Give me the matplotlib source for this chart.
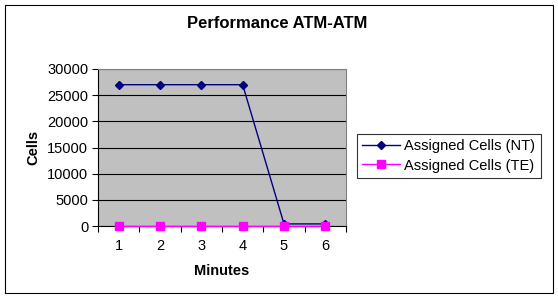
import numpy as np
import matplotlib
matplotlib.use("Agg")
import matplotlib.pyplot as plt
from matplotlib.patches import Rectangle

minutes = [1, 2, 3, 4, 5, 6]
cells_nt = [27000, 27000, 27000, 27000, 400, 400]
cells_te = [0, 0, 0, 0, 0, 0]
yticks = [0, 5000, 10000, 15000, 20000, 25000, 30000]

plt.rcParams['font.family'] = ['Liberation Sans', 'DejaVu Sans']

W, H = 558, 298
fig = plt.figure(figsize=(W / 100, H / 100), dpi=100)

# plot area in pixels
left, right, top, bottom = 98, 346, 69, 226
ax = fig.add_axes([left / W, 1 - bottom / H, (right - left) / W, (bottom - top) / H])
ax.set_facecolor('#C0C0C0')

x = np.arange(len(minutes))
ax.plot(x, cells_nt, color='#000080', lw=1, marker='D', ms=4.5,
        mfc='#000080', mec='#000080', label='Assigned Cells (NT)', zorder=4)
ax.plot(x, cells_te, color='#FF00FF', lw=1, marker='s', ms=6,
        mfc='#FF00FF', mec='#FF00FF', label='Assigned Cells (TE)', zorder=5,
        clip_on=False)

ax.set_xlim(-0.5, len(minutes) - 0.5)
ax.set_ylim(0, 30000)
ax.set_yticks(yticks)
ax.set_yticklabels([str(v) for v in yticks], fontsize=10.5)
ax.yaxis.grid(True, color='black', lw=0.8)
ax.set_axisbelow(True)

# category labels centred, tick marks at category boundaries
ax.set_xticks(x)
ax.set_xticklabels([str(m) for m in minutes], fontsize=10.5)
ax.tick_params(axis='x', length=0, pad=9)
ax.set_xticks(np.arange(-0.5, len(minutes)), minor=True)
ax.tick_params(axis='x', which='minor', length=4, direction='out', width=0.8)
ax.tick_params(axis='y', length=4, direction='out', width=0.8, pad=3)

for side in ['top', 'right']:
    ax.spines[side].set_color('#808080')
    ax.spines[side].set_linewidth(0.8)
ax.spines['left'].set_color('black')
ax.spines['bottom'].set_color('black')

ax.set_xlabel('Minutes', fontsize=10.5, fontweight='bold', labelpad=8)
ax.set_ylabel('Cells', fontsize=10.5, fontweight='bold', labelpad=5)

fig.text(277 / W, 1 - 23 / H, 'Performance ATM-ATM', ha='center', va='center',
         fontsize=12, fontweight='bold')

leg = ax.legend(loc='center left', bbox_to_anchor=(357 / W, 1 - 156 / H),
                bbox_transform=fig.transFigure, fontsize=10.5, frameon=True,
                fancybox=False, edgecolor='black', borderpad=0.35,
                handlelength=2.6, handletextpad=0.3, labelspacing=0.35,
                borderaxespad=0)
leg.get_frame().set_linewidth(0.8)

fig.patches.append(Rectangle((5 / W, 5 / H), 548 / W, 288 / H,
                             transform=fig.transFigure, fill=False,
                             edgecolor='black', lw=0.8))

fig.savefig('out.png', dpi=100)
